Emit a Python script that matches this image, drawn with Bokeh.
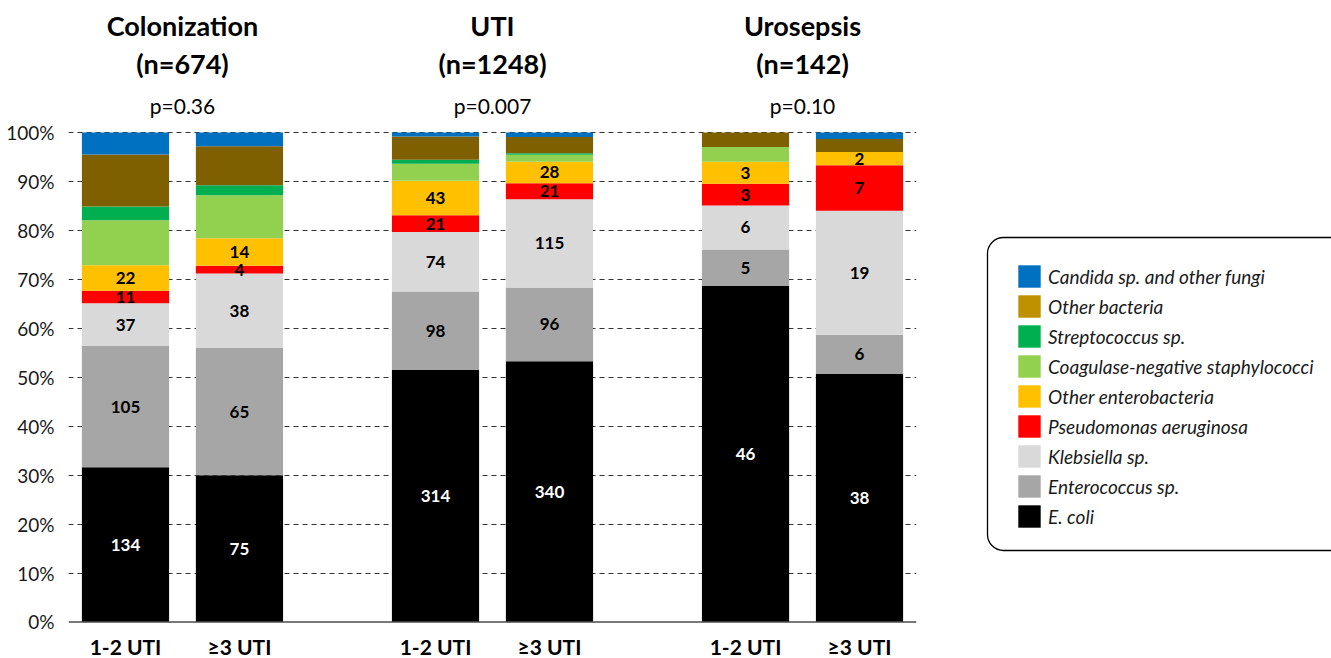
from bokeh.plotting import figure
from bokeh.embed import file_html
from bokeh.resources import INLINE
from bokeh.layouts import row
from bokeh.core.properties import value
from bokeh.models import (ColumnDataSource, FactorRange, FixedTicker, NumeralTickFormatter,
                          Span, BoxAnnotation, Legend, LegendItem, Range1d)

# ---------------- data ----------------
groups = ["Colonization", "UTI", "Urosepsis"]
subgroups = ["1-2 UTI", "\u22653 UTI"]
p_values = ["p=0.36", "p=0.007", "p=0.10"]

# counts per bar: Col 1-2, Col >=3, UTI 1-2, UTI >=3, Uro 1-2, Uro >=3
ecoli        = [134, 75, 314, 340, 46, 38]
enterococcus = [105, 65, 98, 96, 5, 6]
klebsiella   = [37, 38, 74, 115, 6, 19]
pseudomonas  = [11, 4, 21, 21, 3, 7]
other_entero = [22, 14, 43, 28, 3, 2]
cons         = [39, 22, 21, 9, 2, 0]
strep        = [12, 5, 5, 2, 0, 0]
other_bact   = [45, 20, 29, 21, 2, 2]
candida      = [19, 7, 5, 6, 0, 1]

species_names = ["E. coli", "Enterococcus sp.", "Klebsiella sp.", "Pseudomonas aeruginosa",
                 "Other enterobacteria", "Coagulase-negative staphylococci", "Streptococcus sp.",
                 "Other bacteria", "Candida sp. and other fungi"]
series = [ecoli, enterococcus, klebsiella, pseudomonas, other_entero, cons, strep, other_bact, candida]
bar_colors = ["#000000", "#A6A6A6", "#D9D9D9", "#FF0000", "#FFC000", "#92D050", "#00B050",
              "#7F6000", "#0070C0"]
legend_colors = ["#000000", "#A6A6A6", "#D9D9D9", "#FF0000", "#FFC000", "#92D050", "#00B050",
                 "#BF9000", "#0070C0"]
labelled = 5  # first five species carry count labels

# ---------------- derived ----------------
factors = [(g, s) for g in groups for s in subgroups]
totals = [sum(s[i] for s in series) for i in range(len(factors))]
keys = ["s%d" % k for k in range(len(series))]
data = {"x": factors}
for k, s in zip(keys, series):
    data[k] = [v / t for v, t in zip(s, totals)]
src = ColumnDataSource(data)

FONT = "Lato"
H = 658

pA = figure(width=976, height=H,
            x_range=FactorRange(factors=factors, factor_padding=0, group_padding=0.72, range_padding=0),
            y_range=Range1d(-0.0746, 1.2697),
            x_axis_location=None, toolbar_location=None, output_backend="svg",
            min_border_left=68, min_border_right=60, min_border_top=0, min_border_bottom=0,
            outline_line_color=None)
for g in pA.grid:
    if g.dimension == 0:
        g.visible = False

pA.vbar_stack(keys, x="x", width=0.765, color=bar_colors, line_color=None, source=src)

# y axis
yt = [i / 10 for i in range(11)]
pA.yaxis.ticker = FixedTicker(ticks=yt)
pA.yaxis.formatter = NumeralTickFormatter(format="0%")
pA.yaxis.axis_line_color = None
pA.yaxis.major_tick_line_color = None
pA.yaxis.minor_tick_line_color = None
pA.yaxis.major_label_standoff = 8
pA.yaxis.major_label_text_font = FONT
pA.yaxis.major_label_text_font_size = "19px"
pA.yaxis.major_label_text_color = "#1a1a1a"
pA.ygrid.ticker = FixedTicker(ticks=yt[1:])
pA.ygrid.grid_line_color = "#333333"
pA.ygrid.grid_line_dash = "5 4"
pA.ygrid.grid_line_width = 1

pA.add_layout(Span(location=0, dimension="width", line_color="#4d4d4d", line_width=1.5))

# segment labels
lx, ly, lt, lc = [], [], [], []
for i, f in enumerate(factors):
    cum = 0.0
    for k in range(len(series)):
        frac = data[keys[k]][i]
        if k < labelled and series[k][i] > 0:
            lx.append(f)
            ly.append(cum + frac / 2)
            lt.append(str(series[k][i]))
            lc.append("white" if k == 0 else "black")
        cum += frac
pA.text(x="x", y="y", text="t", text_color="c",
        source=ColumnDataSource(dict(x=lx, y=ly, t=lt, c=lc)),
        text_font=value(FONT), text_font_style="bold", text_font_size="17px",
        text_align="center", text_baseline="middle")

# x labels
pA.text(x="x", y="y", text="t",
        source=ColumnDataSource(dict(x=factors, y=[-0.050] * len(factors), t=[s for _, s in factors])),
        text_font=value(FONT), text_font_style="bold", text_font_size="21px",
        text_color="black", text_align="center", text_baseline="middle")

# group titles
group_n = [totals[2 * i] + totals[2 * i + 1] for i in range(len(groups))]
pA.text(x="x", y="y", text="t",
        source=ColumnDataSource(dict(x=groups, y=[1.2186] * 3, t=groups)),
        text_font=value(FONT), text_font_style="bold", text_font_size="27px",
        text_color="black", text_align="center", text_baseline="middle")
pA.text(x="x", y="y", text="t",
        source=ColumnDataSource(dict(x=groups, y=[1.141] * 3, t=["(n=%d)" % n for n in group_n])),
        text_font=value(FONT), text_font_style="bold", text_font_size="27px",
        text_color="black", text_align="center", text_baseline="middle")
pA.text(x="x", y="y", text="t",
        source=ColumnDataSource(dict(x=groups, y=[1.055] * 3, t=p_values)),
        text_font=value(FONT), text_font_size="21px",
        text_color="black", text_align="center", text_baseline="middle")

# ---------------- legend panel ----------------
WB = 1331 - 976
pB = figure(width=WB, height=H, x_range=Range1d(0, WB), y_range=Range1d(0, H),
            x_axis_location=None, y_axis_location=None, toolbar_location=None,
            output_backend="svg", min_border=0, outline_line_color=None)
for g in pB.grid:
    g.visible = False

items = []
for name, c in reversed(list(zip(species_names, legend_colors))):
    # legend proxy, placed outside the visible range
    r = pB.vbar(x=[-50], top=[-50], bottom=[-60], width=1, fill_color=c, line_color=None)
    items.append(LegendItem(label=name, renderers=[r]))

legend = Legend(items=items, location=(39, 128), orientation="vertical",
                glyph_width=28, glyph_height=28, label_height=28, spacing=2,
                padding=0, margin=0, label_standoff=5,
                border_line_color=None, background_fill_alpha=0,
                label_text_font=FONT, label_text_font_style="italic",
                label_text_font_size="19px", label_text_color="#1a1a1a")
pB.add_layout(legend)

pB.add_layout(BoxAnnotation(left=11, right=420, bottom=108, top=421,
                            fill_color=None, fill_alpha=0, line_color="black", line_alpha=1,
                            line_width=1.3, border_radius=16))

layout = row(pA, pB)
open("out.html", "w").write(file_html(layout, INLINE))
